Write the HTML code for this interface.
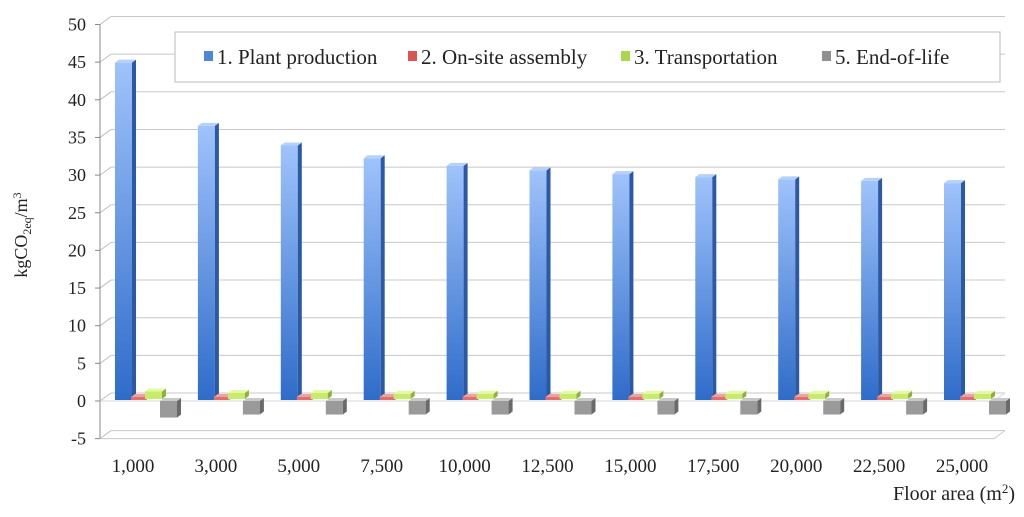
<!DOCTYPE html>
<html><head><meta charset="utf-8"><style>
body{margin:0;background:#fff;}
svg{display:block;font-family:"Liberation Serif",serif;}
</style></head><body>
<svg id="c" width="1024" height="517"></svg>
<script>
const categories=["1,000","3,000","5,000","7,500","10,000","12,500","15,000","17,500","20,000","22,500","25,000"];
const plantProduction=[44.8,36.4,33.8,32.1,31.1,30.5,30.0,29.6,29.3,29.1,28.8];
const onSiteAssembly=[0.4,0.4,0.4,0.4,0.4,0.4,0.4,0.4,0.4,0.4,0.4];
const transportation=[1.0,0.8,0.8,0.7,0.7,0.7,0.7,0.7,0.7,0.7,0.7];
const endOfLife=[-2.2,-1.8,-1.8,-1.8,-1.8,-1.8,-1.8,-1.8,-1.8,-1.8,-1.8];
const yTicks=[-5,0,5,10,15,20,25,30,35,40,45,50];
const legendLabels=["1. Plant production","2. On-site assembly","3. Transportation","5. End-of-life"];

const NS="http://www.w3.org/2000/svg";
const svg=document.getElementById('c');
function mk(t,a,p){const e=document.createElementNS(NS,t);for(const k in a)e.setAttribute(k,a[k]);(p||svg).appendChild(e);return e;}
const y=v=>401-v*7.53;
const x0=133,step=82.9;
const cx=i=>x0+i*step;

const defs=mk('defs',{});
function grad(id,c1,c2){const g=mk('linearGradient',{id:id,x1:0,y1:0,x2:0,y2:1},defs);mk('stop',{offset:0,'stop-color':c1},g);mk('stop',{offset:1,'stop-color':c2},g);}
grad('gb','#9fc3fb','#2f6cc9');

yTicks.forEach(v=>{
  const yy=y(v);
  const g=mk('line',{x1:100,y1:yy,x2:111,y2:yy-8,stroke:'#bdbdbd'});
  
  const h=mk('line',{x1:111,y1:yy-8,x2:1005,y2:yy-8,stroke:'#c8c8c8'});
  
  mk('line',{x1:95,y1:yy,x2:100,y2:yy,stroke:'#888'});
  const t=mk('text',{x:86,y:yy+6,'text-anchor':'end','font-size':18,fill:'#222'});
  t.textContent=v;
});
mk('line',{x1:100,y1:y(50),x2:100,y2:y(-5),stroke:'#888'});
mk('line',{x1:100,y1:y(-5),x2:994,y2:y(-5),stroke:'#c8c8c8'});
mk('line',{x1:994,y1:y(-5),x2:1005,y2:y(-5)-8,stroke:'#c8c8c8'});
mk('line',{x1:100,y1:y(0),x2:994,y2:y(0),stroke:'#d8d8d8'});
mk('line',{x1:994,y1:y(0),x2:1005,y2:y(0)-8,stroke:'#d8d8d8'});

function bar3d(x,w,v0,v1,front,side,top,name,dy){
  const yt=Math.min(y(v0),y(v1))+dy,yb=Math.max(y(v0),y(v1))+dy,d=4;
  const g=mk('g',{});
  mk('rect',{x:x,y:yt,width:w,height:Math.max(yb-yt,1),fill:front},g);
  mk('polygon',{points:`${x+w},${yt} ${x+w+d},${yt-3} ${x+w+d},${yb-3} ${x+w},${yb}`,fill:side},g);
  mk('polygon',{points:`${x},${yt} ${x+d},${yt-3} ${x+w+d},${yt-3} ${x+w},${yt}`,fill:top},g);
}
categories.forEach((c,i)=>{
  const c0=cx(i);
  bar3d(c0-18,17,0,plantProduction[i],'url(#gb)','#2a5aa5','#b6d0fa','bar-plant-production',-1);
  bar3d(c0-2,15,0,onSiteAssembly[i],'#e07070','#b04545','#f0a0a0','bar-on-site-assembly',-1);
  bar3d(c0+12,17,0,transportation[i],'#c7ec6a','#8fb040','#e4f8a8','bar-transportation',-2);
  bar3d(c0+27,17,0,endOfLife[i],'#9a9a9a','#6a6a6a','#c8c8c8','bar-end-of-life',0);
  const t=mk('text',{x:c0,y:472,'text-anchor':'middle','font-size':19,fill:'#222'});
  t.textContent=c;
});

const lg=mk('g',{});
mk('rect',{x:175,y:32,width:825,height:50,fill:'#fff',stroke:'#bbb'},lg);
const lc=['#4f86d8','#d95555','#a9d84a','#909090'];
const lx=[217,421,634,835];
legendLabels.forEach((l,i)=>{
  const e=mk('g',{},lg);
  mk('rect',{x:lx[i]-13,y:51,width:9,height:10,fill:lc[i]},e);
  const t=mk('text',{x:lx[i],y:64,'font-size':21,fill:'#222'},e);t.textContent=l;
});

const yt=mk('text',{transform:'translate(27,235) rotate(-90)','text-anchor':'middle','font-size':18,fill:'#222'});
yt.innerHTML='kgCO<tspan font-size="12" dy="4">2eq</tspan><tspan dy="-4">/m</tspan><tspan font-size="12" dy="-6">3</tspan>';

const xt=mk('text',{x:1015,y:500,'text-anchor':'end','font-size':20,fill:'#222'});
xt.innerHTML='Floor area (m<tspan font-size="13" dy="-7">2</tspan><tspan dy="7">)</tspan>';

</script>
</body></html>
